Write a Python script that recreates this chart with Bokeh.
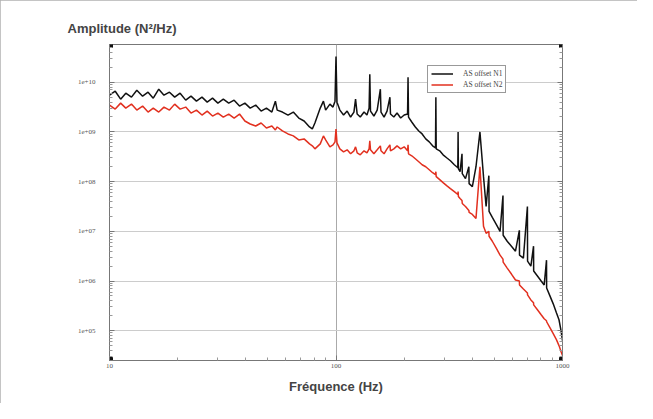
from bokeh.plotting import figure
from bokeh.models import (FixedTicker, LogAxis, Legend, LegendItem, Range1d,
                          CustomJSTickFormatter)
from bokeh.embed import file_html
from bokeh.resources import INLINE

# ---- data ----
freq_hz = [10, 10.6, 11.2, 11.8, 12.5, 13.2, 14, 14.8, 15.6, 16.5, 17.4, 18.4, 19.4, 20.5,
           21.7, 22.9, 24.2, 25.6, 27, 28.5, 30.1, 31.8, 33.6, 35.5, 37.5, 39.6, 41.8, 44.2,
           46.7, 49.3, 52.1, 54, 55, 58, 61.4, 64.8, 68.5, 72.3, 76.4, 78.6, 80.7, 85.2, 88,
           90, 94, 97, 99, 100, 101, 104, 108, 112, 116, 120, 122, 124, 128, 133, 137, 140,
           141, 142, 147, 152, 157, 158, 163, 168, 173, 174, 180, 186, 193, 200, 207, 208,
           209, 216, 224, 232, 240, 249, 258, 267, 275, 276, 277, 287, 297, 308, 320, 333,
           345, 346, 347, 353, 360, 361, 373, 386, 387, 400, 415, 432, 448, 460, 473, 474,
           490, 510, 530, 546, 547, 570, 595, 620, 645, 646, 672, 700, 701, 725, 745, 746,
           775, 805, 830, 850, 851, 880, 910, 940, 965, 985, 1000]

# log10 of amplitude (N^2/Hz)
n1_log10 = [9.74, 9.82, 9.66, 9.78, 9.70, 9.84, 9.72, 9.80, 9.68, 9.86, 9.74, 9.80, 9.70, 9.78,
            9.64, 9.72, 9.62, 9.70, 9.60, 9.68, 9.58, 9.66, 9.58, 9.64, 9.52, 9.58, 9.48, 9.54,
            9.42, 9.48, 9.40, 9.62, 9.44, 9.40, 9.34, 9.40, 9.28, 9.22, 9.10, 9.06, 9.18, 9.48, 9.62,
            9.44, 9.56, 9.50, 9.62, 10.52, 9.60, 9.44, 9.34, 9.42, 9.30, 9.40, 9.66, 9.36, 9.30, 9.40, 9.34, 9.48,
            10.16, 9.42, 9.32, 9.44, 9.86, 9.40, 9.30, 9.42, 9.70, 9.36, 9.30, 9.38, 9.28, 9.34, 9.36, 10.10,
            9.30, 9.20, 9.10, 9.02, 8.96, 8.86, 8.80, 8.72, 8.68, 9.70, 8.66, 8.62, 8.54, 8.48, 8.42, 8.34,
            8.28, 9.00, 8.26, 8.20, 8.56, 8.16, 8.06, 8.30, 7.96, 7.90, 8.30, 9.00, 8.10, 7.50, 8.12, 7.40,
            7.28, 7.14, 7.00, 7.72, 6.92, 6.80, 6.70, 6.60, 7.02, 6.52, 6.46, 7.50, 6.40, 6.30, 6.70, 6.20,
            6.10, 6.00, 5.92, 6.42, 5.86, 5.70, 5.54, 5.36, 5.22, 5.00, 4.80]

n2_log10 = [9.54, 9.46, 9.58, 9.48, 9.56, 9.44, 9.52, 9.40, 9.48, 9.40, 9.50, 9.44, 9.56, 9.46,
            9.50, 9.38, 9.44, 9.34, 9.42, 9.32, 9.38, 9.30, 9.36, 9.28, 9.36, 9.22, 9.16, 9.12,
            9.18, 9.08, 9.12, 9.04, 9.10, 9.02, 8.96, 8.92, 8.84, 8.86, 8.76, 8.72, 8.66, 8.76, 8.92,
            8.84, 8.70, 8.74, 8.80, 9.06, 8.78, 8.66, 8.60, 8.64, 8.56, 8.62, 8.70, 8.58, 8.54, 8.62, 8.58, 8.66,
            8.82, 8.64, 8.56, 8.64, 8.72, 8.62, 8.56, 8.66, 8.74, 8.62, 8.66, 8.72, 8.66, 8.70, 8.62, 8.74,
            8.56, 8.52, 8.46, 8.40, 8.34, 8.30, 8.24, 8.18, 8.14, 8.20, 8.10, 8.04, 7.98, 7.92, 7.86, 7.80,
            7.74, 7.80, 7.70, 7.66, 7.62, 7.56, 7.50, 7.42, 7.38, 7.34, 7.26, 8.30, 7.10, 6.96, 7.00, 6.90,
            6.80, 6.66, 6.52, 6.44, 6.38, 6.26, 6.14, 6.02, 6.00, 5.92, 5.84, 5.76, 5.72, 5.62, 5.56, 5.52,
            5.42, 5.32, 5.24, 5.20, 5.18, 5.06, 4.94, 4.82, 4.70, 4.58, 4.50]

series_labels = ["AS offset N1", "AS offset N2"]
x_major_ticks = [10, 100, 1000]
y_major_ticks = [1e5, 1e6, 1e7, 1e8, 1e9, 1e10]
title_text = "Amplitude (N\u00b2/Hz)"
xlabel_text = "Fr\u00e9quence (Hz)"

n1 = [10 ** v for v in n1_log10]
n2 = [10 ** v for v in n2_log10]

x0, x1 = 10, 1000
y0, y1 = 10 ** 4.4, 10 ** 10.76

x_minor = [k * 10 ** d for d in (1, 2) for k in range(2, 10)]
y_minor = [k * 10 ** d for d in range(4, 11) for k in range(2, 10)]

p = figure(width=637, height=403, x_axis_type="log", y_axis_type="log",
           x_range=Range1d(x0, x1), y_range=Range1d(y0, y1),
           output_backend="svg", toolbar_location=None,
           min_border_left=109, min_border_right=75, min_border_top=44, min_border_bottom=43)
p.styles = {"outline": "1px solid #b0b0b0", "outline-offset": "-1px"}

p.outline_line_color = "#777777"
p.outline_line_width = 1

# title
p.title.text = title_text
p.title.text_font = "Liberation Sans"
p.title.text_font_style = "bold"
p.title.text_font_size = "13px"
p.title.align = "left"
p.title.offset = -42
p.title.standoff = 18

ycode = "var e = Math.round(Math.log10(tick)); return '1e+' + (e < 10 ? '0' + e : String(e));"
xcode = "return String(Math.round(tick));"

for ax in p.xaxis:
    ax.ticker = FixedTicker(ticks=x_major_ticks, minor_ticks=x_minor)
    ax.formatter = CustomJSTickFormatter(code=xcode)
    ax.axis_label = xlabel_text
    ax.axis_label_text_font = "Liberation Sans"
    ax.axis_label_text_font_style = "bold"
    ax.axis_label_text_font_size = "13px"
    ax.axis_label_standoff = 8
    ax.major_label_text_font = "Liberation Serif"
    ax.major_label_text_font_size = "7px"
    ax.major_label_text_color = "#555555"
    ax.major_label_standoff = 3
    ax.axis_line_color = "#777777"
    ax.major_tick_in = 5
    ax.major_tick_out = 0
    ax.minor_tick_in = 3
    ax.minor_tick_out = 0
    ax.major_tick_line_color = "#777777"
    ax.minor_tick_line_color = "#999999"

for ax in p.yaxis:
    ax.ticker = FixedTicker(ticks=y_major_ticks, minor_ticks=y_minor)
    ax.formatter = CustomJSTickFormatter(code=ycode)
    ax.major_label_text_font = "Liberation Serif"
    ax.major_label_text_font_size = "7px"
    ax.major_label_text_color = "#555555"
    ax.major_label_standoff = 14
    ax.axis_line_color = "#777777"
    ax.major_tick_in = 5
    ax.major_tick_out = 0
    ax.minor_tick_in = 3
    ax.minor_tick_out = 0
    ax.major_tick_line_color = "#777777"
    ax.minor_tick_line_color = "#999999"

right = LogAxis(ticker=FixedTicker(ticks=y_major_ticks, minor_ticks=y_minor),
                formatter=CustomJSTickFormatter(code="return '';"),
                axis_line_color="#777777", major_tick_in=5, major_tick_out=0,
                minor_tick_in=3, minor_tick_out=0,
                major_tick_line_color="#777777", minor_tick_line_color="#999999",
                major_label_text_font_size="7px")
p.add_layout(right, "right")

p.xgrid.ticker = FixedTicker(ticks=x_major_ticks)
p.ygrid.ticker = FixedTicker(ticks=y_major_ticks)
p.xgrid.grid_line_color = "#aaaaaa"
p.ygrid.grid_line_color = "#cccccc"
p.xgrid.grid_line_width = 1
p.ygrid.grid_line_width = 1

r2 = p.line(freq_hz, n2, line_color="#e2301f", line_width=1.5)
r1 = p.line(freq_hz, n1, line_color="#111111", line_width=1.5)

p.scatter(x=[x0, x0, x1, x1], y=[y0, y1, y0, y1], marker="square", size=6, color="#111111")

legend = Legend(items=[LegendItem(label=series_labels[0], renderers=[r1]),
                       LegendItem(label=series_labels[1], renderers=[r2])],
                location=(318, 267))
legend.label_text_font = "Liberation Serif"
legend.label_text_font_size = "7.5px"
legend.label_height = 9
legend.glyph_height = 9
legend.glyph_width = 22
legend.label_standoff = 10
legend.spacing = 2
legend.padding = 3
legend.margin = 0
legend.border_line_color = "#333333"
legend.border_line_width = 1
legend.background_fill_alpha = 1
p.add_layout(legend)

open("out.html", "w").write(file_html(p, INLINE))
